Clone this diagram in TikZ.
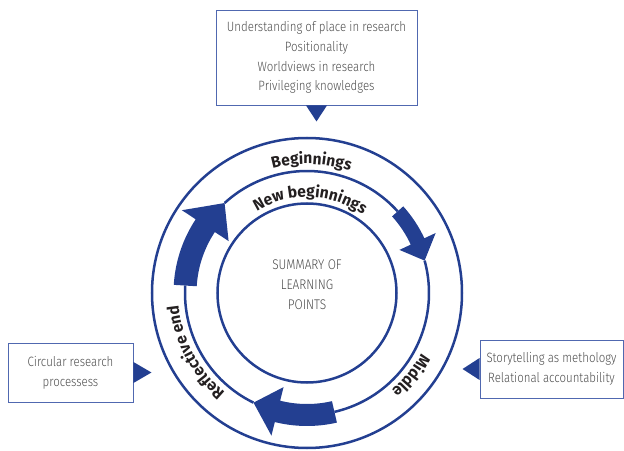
\documentclass[tikz,border=0pt]{standalone}
\usepackage{fontspec}
\setmainfont{Fira Sans}
\newfontfamily\boxfont{Fira Sans Light}[FakeStretch=0.85]
\newfontfamily\lblfont{Fira Sans}[FakeStretch=0.97]
\usetikzlibrary{decorations.text}
\definecolor{ringblue}{HTML}{233F91}
\definecolor{boxblue}{HTML}{5068B0}
\definecolor{boxtext}{HTML}{4D4D4D}
\definecolor{lbltext}{HTML}{231F20}
\newcommand{\rmid}{122}
% curved arrow on the middle ring: start, head base, tip, half width, head half width
\newcommand{\ringarrow}[5]{%
  \fill[ringblue] (#1:{\rmid+#4}) arc[start angle=#1, end angle=#2, radius=\rmid+#4]
    -- (#2:{\rmid+#5}) -- (#3:\rmid) -- (#2:{\rmid-#5}) -- (#2:{\rmid-#4})
    arc[start angle=#2, end angle=#1, radius=\rmid-#4] -- cycle;}
\begin{document}
\begin{tikzpicture}[x=1pt, y=1pt,
    ring/.style={draw=ringblue, line width=2.5pt},
    infobox/.style={draw=boxblue, line width=0.9pt, align=center, text=boxtext,
      font=\boxfont\fontsize{13.5}{19.7}\selectfont, inner sep=0pt},
    pointer/.style={fill=ringblue},
    ringlabel/.style={decorate, decoration={text along path, text align=center,
      text color=lbltext, text={|\lblfont\bfseries\fontsize{16}{19}\selectfont|#1}}}]
    \useasboundingbox (-307,-157) rectangle (317,293);
    % draw the rings
    \node[ring, circle, minimum size=310pt, inner sep=0pt] (outer) at (0,0) {};
    \node[ring, circle, minimum size=179pt, inner sep=0pt] (inner) at (0,0) {};
    \draw[ring] (132.5:\rmid) arc[start angle=132.5, end angle=42, radius=\rmid];
    \draw[ring] (15.4:\rmid) arc[start angle=15.4, end angle=-77, radius=\rmid];
    \draw[ring] (-116:\rmid) arc[start angle=-116, end angle=-183.5, radius=\rmid];
    % the arrows on the middle ring
    \ringarrow{176.5}{146.5}{132.5}{11.5}{28}
    \ringarrow{42}{25}{15.4}{7.5}{20}
    \ringarrow{-77}{-104}{-116}{11}{25}
    % the texts along the rings
    \path[ringlabel=Beginnings] (128:129) arc[start angle=128, end angle=48, radius=129];
    \path[ringlabel=New beginnings] (140:96) arc[start angle=140, end angle=36, radius=96];
    \path[ringlabel=Reflective end] (250:129) arc[start angle=250, end angle=166, radius=129];
    \path[ringlabel=Middle] (-5:129) arc[start angle=-5, end angle=-72, radius=129];
    \node[align=center, text=boxtext, font=\boxfont\fontsize{14}{20}\selectfont] (summary) at (0,8)
      {SUMMARY OF\\LEARNING\\POINTS};
    % the boxes round the rings
    \node[infobox, minimum width=201pt, minimum height=95pt] (placebox) at (9.5,235.5)
      {Understanding of place in research\\Positionality\\Worldviews in research\\Privileging knowledges};
    \node[infobox, minimum width=125pt, minimum height=59pt] (loopbox) at (-236.5,-79.5)
      {Circular research\\processess};
    \node[infobox, minimum width=143pt, minimum height=58pt] (storybox) at (244.5,-76)
      {Storytelling as methology\\Relational accountability};
    % the pointers
    \fill[pointer] (placebox.south) ++(-10.5,0) -- ++(21,0) -- ++(-10.5,-16) -- cycle;
    \fill[pointer] (loopbox.east) ++(0,10.5) -- ++(0,-21) -- ++(18,10.5) -- cycle;
    \fill[pointer] (storybox.west) ++(0,11) -- ++(0,-22) -- ++(-17,11) -- cycle;
\end{tikzpicture}
\end{document}
